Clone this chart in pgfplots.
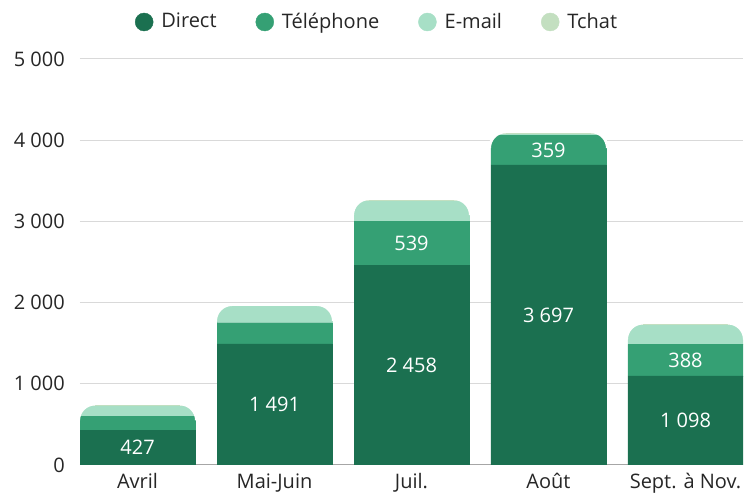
\documentclass[border=0pt]{standalone}
\usepackage{fontspec}
\setmainfont{Open Sans}
\usepackage{pgfplots}
\pgfplotsset{compat=1.18}
\definecolor{cDirect}{HTML}{1B7050}
\definecolor{cTel}{HTML}{35A074}
\definecolor{cMail}{HTML}{A7DFC6}
\definecolor{cChat}{HTML}{C3DFC0}
\definecolor{cGrid}{HTML}{D9D9D9}
\definecolor{cAxis}{HTML}{A6A6A6}
\definecolor{cText}{HTML}{262626}
\pgfdeclareplotmark{roundtop}{%
  \pgfsetfillcolor{white}%
  \pgfpathmoveto{\pgfqpoint{-58.5pt}{1.5pt}}%
  \pgfpathlineto{\pgfqpoint{-42.5pt}{1.5pt}}%
  \pgfpathlineto{\pgfqpoint{-42.5pt}{0pt}}%
  \pgfpatharc{90}{180}{15pt}%
  \pgfpathlineto{\pgfqpoint{-58.5pt}{-15pt}}%
  \pgfpathclose
  \pgfpathmoveto{\pgfqpoint{58.5pt}{1.5pt}}%
  \pgfpathlineto{\pgfqpoint{42.5pt}{1.5pt}}%
  \pgfpathlineto{\pgfqpoint{42.5pt}{0pt}}%
  \pgfpatharc{90}{0}{15pt}%
  \pgfpathlineto{\pgfqpoint{58.5pt}{-15pt}}%
  \pgfpathclose
  \pgfusepathqfill
}
\begin{document}
\fontsize{20}{24}\selectfont
\begin{tikzpicture}
\useasboundingbox (-80pt,-33pt) rectangle (673pt,465pt);
\begin{axis}[
  at={(0pt,0pt)}, anchor=south west,
  scale only axis, width=663pt, height=406pt,
  ybar stacked, bar width=115pt,
  xmin=-0.42, xmax=4.42, ymin=0, ymax=5000,
  xtick={0,1,2,3,4},
  xticklabels={Avril,Mai-Juin,Juil.,Août,Sept. à Nov.},
  ytick={0,1000,2000,3000,4000,5000},
  yticklabels={0,1~000,2~000,3~000,4~000,5~000},
  axis x line*=bottom, axis y line*=left,
  x axis line style={cAxis, line width=1pt, -},
  y axis line style={draw=none},
  major tick length=0pt,
  ymajorgrids, grid style={cGrid, line width=1pt},
  tick label style={text=cText, inner sep=0pt},
  yticklabel style={anchor=east, xshift=-15pt},
  xticklabel style={anchor=base, yshift=-24pt},
  every node near coord/.append style={text=white, anchor=center, inner sep=0pt},
  legend image code/.code={\fill[#1] (0pt,0pt) circle (9pt);},
  legend style={draw=none, fill=none, at={(0.4465,1)}, anchor=center, yshift=37pt,
    legend columns=-1, text=cText,
    nodes={inner sep=0pt},
    /tikz/every odd column/.append style={column sep=8pt},
    /tikz/every even column/.append style={column sep=39pt}},
]
\addplot[fill=cDirect, draw=cDirect, line width=0.4pt, nodes near coords, point meta=explicit symbolic]
  coordinates {(0,427)[427] (1,1491)[1~491] (2,2458)[2~458] (3,3697)[3~697] (4,1098)[1~098]};
\addplot[fill=cTel, draw=cTel, line width=0.4pt, nodes near coords, point meta=explicit symbolic]
  coordinates {(0,176)[] (1,261)[] (2,539)[539] (3,359)[359] (4,388)[388]};
\addplot[fill=cMail, draw=cMail, line width=0.4pt]
  coordinates {(0,124) (1,198) (2,254) (3,20) (4,238)};
\addplot[fill=cChat, draw=cChat, line width=0.4pt]
  coordinates {(0,6) (1,8) (2,10) (3,10) (4,6)};
\legend{Direct,Téléphone,E-mail,Tchat}
\end{axis}
\begin{axis}[
  at={(0pt,0pt)}, anchor=south west,
  scale only axis, width=663pt, height=406pt,
  xmin=-0.42, xmax=4.42, ymin=0, ymax=5000,
  hide axis, clip=false,
]
\addplot[only marks, mark=roundtop]
  coordinates {(0,733) (1,1958) (2,3261) (3,4086) (4,1730)};
\end{axis}
\end{tikzpicture}
\end{document}
